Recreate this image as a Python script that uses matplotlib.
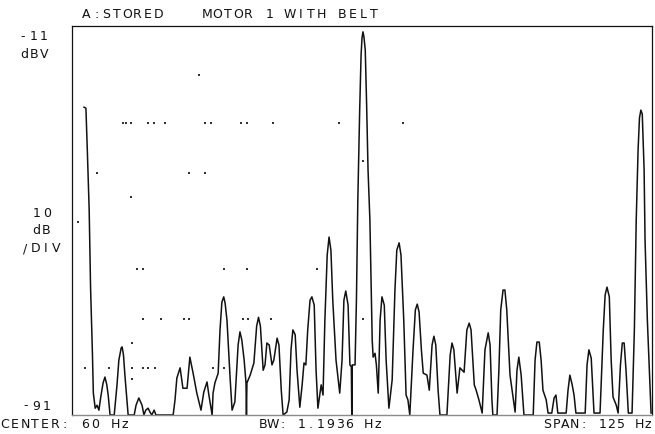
import numpy as np
import matplotlib
matplotlib.use("Agg")
import matplotlib.pyplot as plt

# analyzer setup (from the screen annotations)
center_hz = 60
span_hz = 125
ref_dbv = -11
db_per_div = 10
n_div = 8

# stored trace: frequency (Hz) and level (dBV)
trace_hz = [
    0.1, 0.5, 0.8, 1.2, 1.5, 1.9, 2.1, 2.5, 2.9, 3.3, 3.7, 4.2, 4.6, 5.0, 5.3, 5.7,
    6.6, 7.2, 7.6, 8.1, 8.3, 8.6, 8.9, 9.6, 10.9, 11.3, 11.9, 12.6, 13.0, 13.4, 13.9,
    14.3, 14.7, 15.2, 15.6, 19.3,
    19.7, 20.1, 20.8, 21.4, 22.3, 22.9, 23.6, 24.4, 25.3, 25.9, 26.6, 27.0, 27.7,
    27.9, 28.3, 29.0, 29.4, 29.8, 30.2, 30.5, 30.9, 31.6, 32.0, 32.6, 33.3, 33.7,
    34.1, 34.6, 35.0, 35.1, 35.2, 35.9, 36.7, 37.3, 37.7, 38.1, 38.7, 39.1, 39.5,
    40.0, 40.6, 41.0, 41.7, 42.1, 42.6, 43.0, 43.8, 44.3, 44.7, 45.1, 45.6, 46.0,
    46.6, 47.1, 47.5, 47.9, 48.3, 48.8, 49.2, 49.7, 50.1, 50.5, 51.2, 51.6, 52.0,
    52.5, 52.9, 53.3, 53.7, 54.4, 55.2, 55.7, 56.1, 56.5, 57.0, 57.4, 57.7, 57.8,
    57.9, 58.5, 58.8, 59.1, 59.5, 59.8, 60.0, 60.2, 60.4, 60.7, 61.0, 61.3, 61.7,
    62.2, 62.4, 62.8, 63.1, 63.5, 63.9, 64.3, 64.8, 65.2, 65.8, 66.5, 67.1, 67.5,
    68.0, 68.4, 69.0, 69.5, 69.9, 70.3, 71.0, 71.5, 71.9, 72.3, 72.8, 73.2, 74.0,
    74.5, 75.1, 75.5, 75.9, 76.4, 76.8, 78.3, 79.0, 79.4, 79.8, 80.5, 81.1, 82.0,
    82.6, 83.1, 83.5, 84.2, 84.6, 85.2, 85.9, 86.5, 87.2, 87.6, 88.0, 88.2, 89.1,
    89.5, 89.9, 90.4, 90.8, 91.2, 91.9, 92.5, 93.0, 93.4, 93.8, 94.3, 94.9, 96.9,
    97.3, 97.7, 98.2, 98.6, 99.0, 99.7, 100.1, 100.9, 101.4, 101.8, 102.2, 104.0,
    104.4, 104.8, 105.3, 105.7, 106.1, 108.1, 108.5, 108.9, 109.4, 110.0, 111.3,
    112.0, 112.4, 112.8, 113.3, 113.7, 114.1, 114.8, 115.2, 115.7, 116.1, 116.5,
    116.9, 117.4, 118.2, 118.7, 119.1, 119.5, 119.8, 120.1, 120.4, 120.8, 121.0,
    121.5, 122.0, 122.3,
]
trace_dbv = [
    -27.7, -27.9, -36.5, -48.8, -64.7, -78.3, -86.5, -89.6, -89.0, -90.0, -87.3, -84.4, -83.2, -84.8, -86.9, -91,
    -91, -84.8, -79.7, -77.2, -77.0, -78.7, -82.8, -91, -91, -89.0, -87.5, -89.0, -91, -90.0, -89.6,
    -90.4, -91, -90.0, -91, -91,
    -87.9, -83.4, -81.3, -85.5, -85.5, -79.1, -82.4, -86.5, -90.0, -86.3, -84.2, -86.9, -91,
    -86.5, -84.4, -82.4, -73.5, -67.8, -66.7, -68.0, -71.5, -83.8, -90.0, -88.3, -76.6, -73.9,
    -75.6, -79.7, -84.4, -91, -84.4, -82.8, -80.3, -72.7, -70.9, -72.7, -81.8, -80.7, -76.2,
    -76.6, -80.7, -79.7, -75.2, -76.6, -85.9, -91, -90.4, -87.9, -77.6, -73.5, -74.5, -81.8,
    -89.4, -84.8, -80.3, -80.7, -73.5, -67.4, -66.7, -68.4, -81.8, -89.6, -84.8, -86.9, -71.5,
    -58.1, -54.4, -57.1, -67.4, -79.7, -86.5, -79.7, -67.4, -65.5, -68.4, -80.7, -81.1, -91,
    -80.7, -80.7, -67.4, -46.8, -28.3, -17.0, -13.5, -12.2, -13.1, -15.9, -27.3, -40.6, -50.9,
    -75.6, -79.1, -78.3, -80.7, -86.5, -71.5, -66.7, -68.4, -79.7, -89.6, -83.8, -65.3, -57.1,
    -55.6, -58.1, -71.5, -86.9, -87.9, -91, -77.6, -69.4, -68.2, -69.8, -77.6, -82.4, -82.8,
    -85.9, -76.6, -74.8, -76.6, -85.9, -91, -91, -78.7, -76.2, -77.6, -86.5, -81.3, -82.2,
    -73.5, -72.1, -73.5, -84.8, -85.9, -87.9, -90.6, -77.6, -74.1, -76.6, -87.9, -91, -91,
    -81.8, -69.4, -65.3, -65.3, -69.4, -82.8, -86.9, -90.4, -81.8, -79.1, -82.8, -91, -91,
    -79.7, -76.0, -76.0, -79.7, -85.9, -87.9, -90.6, -90.6, -87.5, -86.9, -90.6, -90.6,
    -85.9, -82.8, -84.8, -86.9, -90.6, -90.6, -80.7, -77.6, -79.3, -90.6, -90.6,
    -73.5, -66.3, -64.7, -66.7, -79.7, -87.3, -89.0, -90.6, -80.7, -76.2, -76.2,
    -81.8, -90.6, -90.6, -73.5, -50.9, -36.5, -29.9, -28.3, -29.1, -40.6, -55.0,
    -71.5, -83.8, -90.6,
]

# stray graticule dots left on the screen
dot_hz = [24.9, 8.5, 9.1, 10.2, 13.9, 15.2, 17.5, 26.2, 27.5, 33.9, 35.2, 40.8, 55.1, 68.8,
          2.9, 22.7, 26.2, 60.2, 10.2, -1.2, 11.5, 12.8, 30.3, 35.2, 50.3,
          12.8, 16.7, 21.6, 22.7, 34.4, 35.4, 40.4, 60.2, 10.4,
          0.3, 5.5, 10.4, 12.8, 13.9, 15.4, 27.9, 30.3, 10.4]
dot_dbv = [-21.1, -31, -31, -31, -31, -31, -31, -31, -31, -31, -31, -31, -31, -31,
           -41.2, -41.2, -41.2, -38.8, -46.2, -51.3, -61, -61, -61, -61, -61,
           -71.3, -71.3, -71.3, -71.3, -71.3, -71.3, -71.3, -71.3, -76.2,
           -81.3, -81.3, -81.3, -81.3, -81.3, -81.3, -81.3, -81.3, -83.6]

title_left = "A:STORED"
title_right = "MOTOR 1 WITH BELT"
ref_label = ["-11", "dBV"]
scale_label = ["10", "dB", "/DIV"]
bottom_label = "-91"
footer = ["CENTER: 60 Hz", "BW: 1.1936 Hz", "SPAN: 125 Hz"]

W, H = 655, 434
fig = plt.figure(figsize=(W / 100, H / 100), dpi=100)
ax = fig.add_axes([72 / W, (H - 415) / H, 580 / W, 389 / H])

ax.set_xlim(center_hz - span_hz / 2, center_hz + span_hz / 2)
ax.set_ylim(ref_dbv - n_div * db_per_div, ref_dbv)
ax.set_xticks([])
ax.set_yticks([])
for side in ["left", "top", "right"]:
    ax.spines[side].set_linewidth(0.9)
    ax.spines[side].set_color("#111111")
ax.spines["bottom"].set_linewidth(1.0)
ax.spines["bottom"].set_color("#8a8a8a")

ax.plot(trace_hz, trace_dbv, color="#111111", lw=1.1, clip_on=False,
        solid_joinstyle="round")
ax.scatter(dot_hz, dot_dbv, s=1.2, c="#333333", marker="s", lw=0)


# the analyzer prints in a fixed-pitch stroke font, so place char by char
def put(s, x0, y, pitch=10.3, size=9):
    for i, ch in enumerate(s):
        fig.text((x0 + i * pitch) / W, 1 - y / H, ch, ha="center", va="center",
                 fontsize=size, family="DejaVu Sans", color="#111111")


put(title_left, 86, 14)
put(title_right, 207, 14, pitch=10.4)
put(ref_label[0], 23, 37)
put(ref_label[1], 24, 54)
put(scale_label[0], 37, 213)
put(scale_label[1], 36, 231)
put(scale_label[2], 25, 249)
put(bottom_label, 26, 406)
put(footer[0], 5, 425, pitch=10.0)
put(footer[1], 263, 425, pitch=9.6)
put(footer[2], 547, 425, pitch=9.2)

fig.savefig("out.png", dpi=100)
